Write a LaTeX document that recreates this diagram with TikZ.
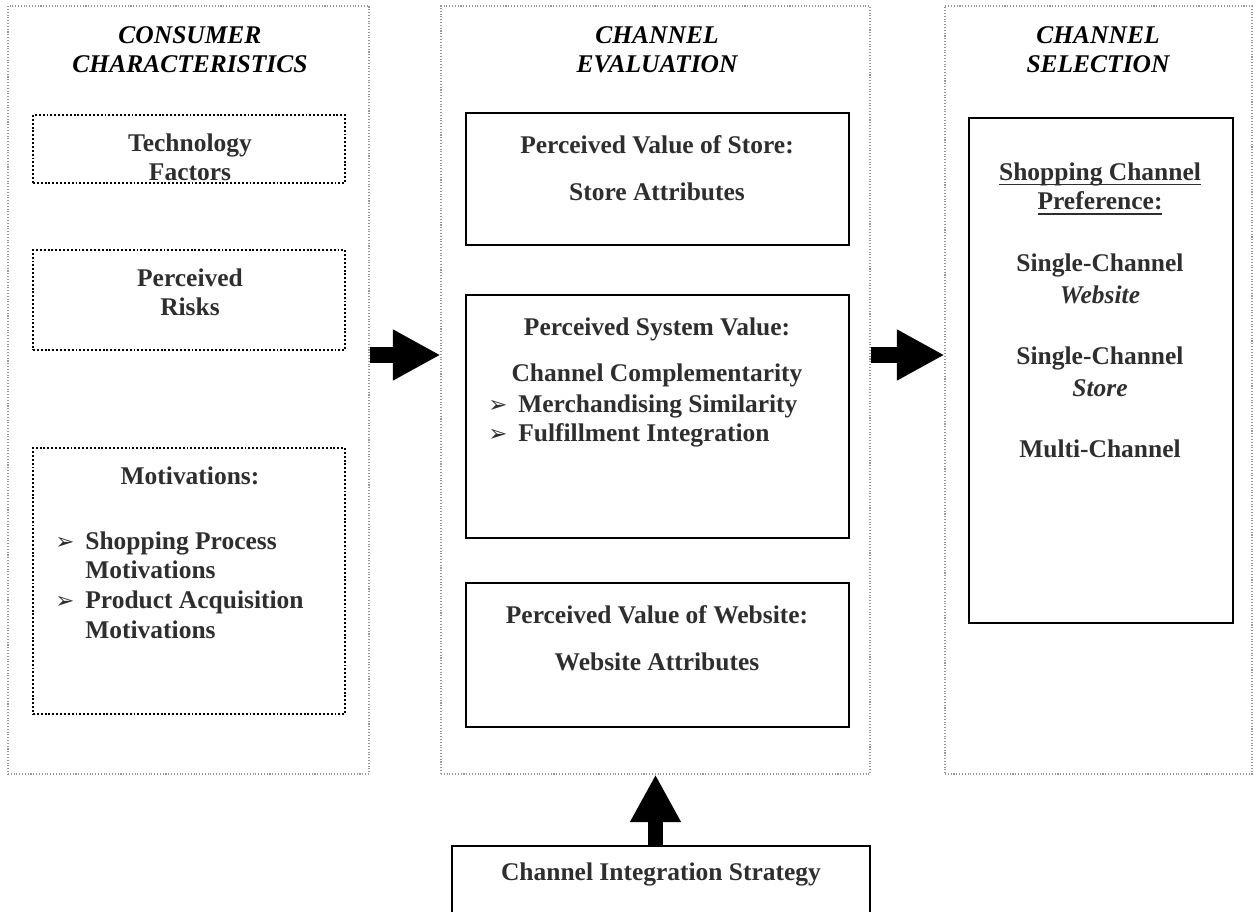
\documentclass[tikz,border=0pt]{standalone}
\usepackage{fontspec}
\setmainfont{Liberation Serif}
\newfontfamily\arrowfont{DejaVu Sans}
\usetikzlibrary{arrows.meta}

\newsavebox{\ulbox}
\newcommand{\thickul}[1]{\sbox{\ulbox}{#1}\rlap{\vrule height -2pt depth 3.1pt width \wd\ulbox}\usebox{\ulbox}}
\newcommand{\pick}{\makebox[0.6cm][l]{\arrowfont\fontsize{13}{13}\selectfont ➢}}

\begin{document}
\begin{tikzpicture}[
    font=\fontsize{14.5}{17}\selectfont\bfseries,
    column/.style={draw=black!40, densely dotted, line width=0.6pt, inner sep=0pt,
                   minimum width=#1, minimum height=15.36cm},
    factor/.style={draw, line width=1pt, dash pattern=on 1.1pt off 1.1pt, inner sep=0pt,
                   minimum width=6.24cm, minimum height=#1},
    valuebox/.style={draw, line width=1.1pt, inner sep=0pt, minimum width=7.66cm, minimum height=#1},
    heading/.style={anchor=north, align=center, inner sep=0pt, font=\fontsize{14.5}{16.5}\selectfont\bfseries\itshape},
    label/.style={anchor=north, align=center, inner sep=0pt, text=black!82},
    list/.style={anchor=north west, align=left, inner sep=0pt, text=black!82},
    blockarrow/.style={line width=0.31cm, -{Triangle[length=0.95cm, width=0.95cm]}}
]
    \useasboundingbox (0,0) rectangle (25.08,-18.24);
    % the three stages
    \node[column=7.22cm] (cons) at (3.77,-7.80) {};
    \node[column=8.58cm] (eval) at (13.11,-7.80) {};
    \node[column=6.14cm] (sel)  at (21.97,-7.80) {};
    \node[heading] (consT) at (3.80,-0.52)  {CONSUMER\\CHARACTERISTICS};
    \node[heading] (evalT) at (13.14,-0.52) {CHANNEL\\EVALUATION};
    \node[heading] (selT)  at (21.96,-0.52) {CHANNEL\\SELECTION};

    % consumer characteristics
    \node[factor=1.36cm] (tech) at (3.78,-2.98) {};
    \node[factor=2.00cm] (risk) at (3.78,-6.00) {};
    \node[factor=5.32cm] (motiv) at (3.78,-11.62) {};
    \node[label] (techT) at (3.80,-2.66) {Technology\\Factors};
    \node[label] (riskT) at (3.80,-5.36) {Perceived\\Risks};
    \node[label] (motivT) at (3.80,-9.33) {Motivations:};
    \node[list] (motivL) at (1.10,-10.62)
        {\pick Shopping Process\\\hspace*{0.6cm}Motivations\\\pick Product Acquisition\\\hspace*{0.6cm}Motivations};

    % channel evaluation
    \node[valuebox=2.64cm] (store) at (13.15,-3.58) {};
    \node[valuebox=4.86cm] (sys)   at (13.15,-8.33) {};
    \node[valuebox=2.88cm] (web)   at (13.15,-13.10) {};
    \node[label] (storeT) at (13.14,-2.70) {Perceived Value of Store:\\[9.6pt]Store Attributes};
    \node[label] (sysT)   at (13.14,-6.34) {Perceived System Value:\\[9.6pt]Channel Complementarity};
    \node[list]  (sysL)   at (9.76,-7.88) {\pick Merchandising Similarity\\\pick Fulfillment Integration};
    \node[label] (webT)   at (13.14,-12.10) {Perceived Value of Website:\\[9.6pt]Website Attributes};

    % channel selection
    \node[draw, line width=1.1pt, minimum width=5.28cm, minimum height=10.10cm] (pref) at (22.02,-7.41) {};
    \node[label] (prefT) at (22.00,-3.24)
        {\thickul{Shopping Channel}\\\thickul{Preference:}\\[18pt]
         Single-Channel\\[1pt]\textit{Website}\\[18pt]
         Single-Channel\\[1pt]\textit{Store}\\[18pt]
         Multi-Channel};

    % integration strategy (box runs past the lower edge)
    \node[draw, line width=1.1pt, minimum width=8.36cm, minimum height=1.40cm] (strat) at (13.22,-17.62) {};
    \node[label] (stratT) at ([yshift=-0.34cm]strat.north) {Channel Integration Strategy};

    % flow between stages
    \draw[blockarrow] ([yshift=0.70cm]cons.east) -- ([yshift=0.70cm]eval.west);
    \draw[blockarrow] ([yshift=0.70cm]eval.east) -- ([yshift=0.70cm]sel.west);
    \draw[blockarrow] (eval.south |- strat.north) -- (eval.south);
\end{tikzpicture}
\end{document}
